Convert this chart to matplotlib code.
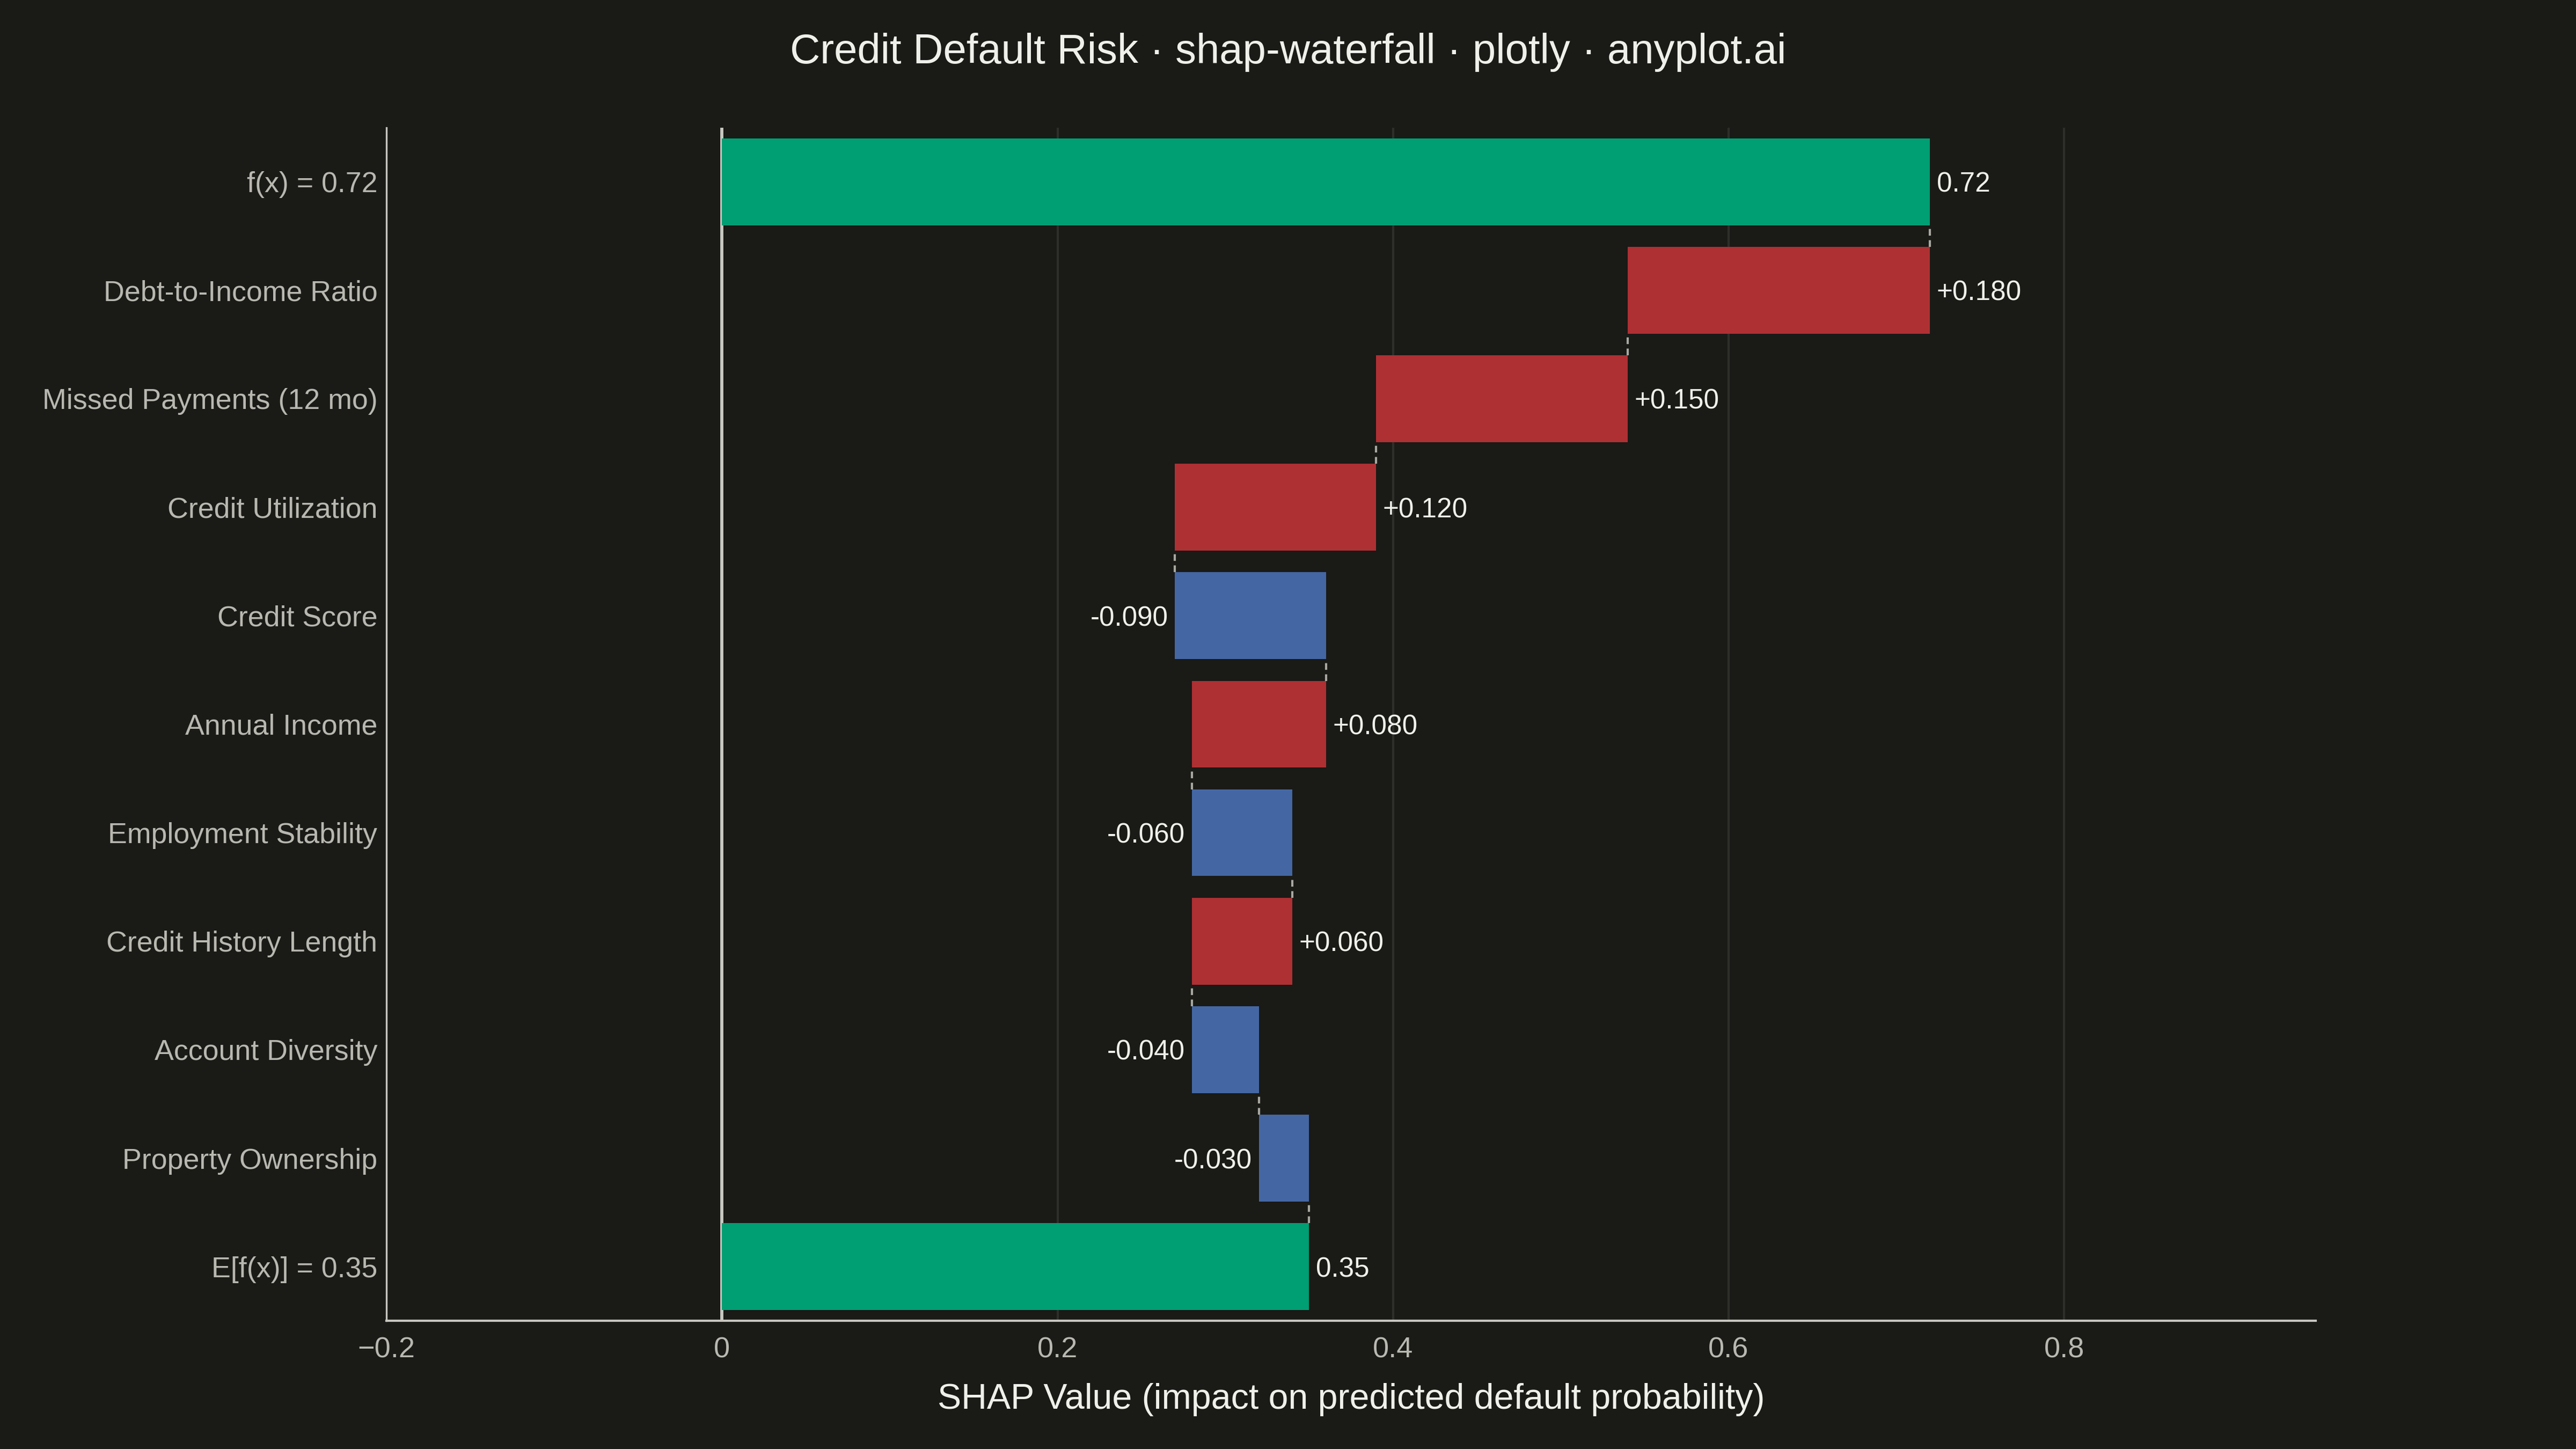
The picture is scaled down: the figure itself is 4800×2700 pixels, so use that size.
import matplotlib.pyplot as plt

# rows from bottom to top (excluding totals)
features = ["Property Ownership", "Account Diversity", "Credit History Length",
            "Employment Stability", "Annual Income", "Credit Score",
            "Credit Utilization", "Missed Payments (12 mo)", "Debt-to-Income Ratio"]
shap_values = [-0.03, -0.04, 0.06, -0.06, 0.08, -0.09, 0.12, 0.15, 0.18]
base_value = 0.35
final_value = 0.72

BG = "#1a1a17"
GREEN = "#009e73"
RED = "#ae3033"
BLUE = "#4467a3"
TICK = "#b8b8b0"
TEXT = "#f0f0ea"
VFS = 12.3


def plot():
    plt.rcParams["font.family"] = ["Liberation Sans", "DejaVu Sans"]
    fig = plt.figure(figsize=(16, 9), dpi=300, facecolor=BG)
    ax = fig.add_axes([0.150, 0.0884, 0.749, 0.8236])
    ax.set_facecolor(BG)

    labels = ["E[f(x)] = %.2f" % base_value] + features + ["f(x) = %.2f" % final_value]
    n = len(labels)
    h = 0.8

    # base bar
    ax.barh(0, base_value, height=h, color=GREEN, zorder=3)
    ax.annotate("%.2f" % base_value, (base_value, 0), xytext=(3, 0),
                textcoords="offset points", va="center_baseline", ha="left",
                color=TEXT, fontsize=VFS, zorder=5)

    cum = base_value
    ends = [cum]
    for i, v in enumerate(shap_values):
        y = i + 1
        left = cum if v > 0 else cum + v
        ax.barh(y, abs(v), left=left, height=h,
                color=RED if v > 0 else BLUE, zorder=3)
        if v > 0:
            ax.annotate("+%.3f" % v, (cum + v, y), xytext=(3, 0),
                        textcoords="offset points", va="center_baseline", ha="left",
                        color=TEXT, fontsize=VFS, zorder=5)
        else:
            ax.annotate("%.3f" % v, (cum + v, y), xytext=(-3, 0),
                        textcoords="offset points", va="center_baseline", ha="right",
                        color=TEXT, fontsize=VFS, zorder=5)
        cum += v
        ends.append(cum)

    # final bar
    ax.barh(n - 1, final_value, height=h, color=GREEN, zorder=3)
    ax.annotate("%.2f" % final_value, (final_value, n - 1), xytext=(3, 0),
                textcoords="offset points", va="center_baseline", ha="left",
                color=TEXT, fontsize=VFS, zorder=5)
    ends.append(final_value)

    # connectors
    for i in range(n - 1):
        ax.plot([ends[i], ends[i]], [i + h / 2, i + 1 - h / 2],
                color="#a8a8a0", lw=1.0, ls=(0, (3, 2)), zorder=4)

    ax.axvline(0, color="#c8c8c0", lw=1.4, zorder=2)

    ax.set_xlim(-0.2, 0.95)
    ax.set_ylim(-0.5, n - 0.5)
    ax.set_yticks(range(n))
    ax.set_yticklabels(labels)
    ax.set_xticks([-0.2, 0, 0.2, 0.4, 0.6, 0.8])
    ax.set_xticklabels(["\u22120.2", "0", "0.2", "0.4", "0.6", "0.8"])
    ax.tick_params(axis="both", length=0, colors=TICK)
    ax.tick_params(axis="y", pad=4, labelsize=12.9)
    ax.tick_params(axis="x", pad=7, labelsize=13)
    ax.grid(axis="x", color="#2e2e2a", lw=1.0, zorder=0)
    ax.set_axisbelow(True)

    for s in ["top", "right"]:
        ax.spines[s].set_visible(False)
    ax.spines["left"].set_color("#c8c8c0")
    ax.spines["left"].set_linewidth(0.8)
    ax.spines["bottom"].set_color("#c8c8c0")
    ax.spines["bottom"].set_linewidth(1.0)

    fig.text(0.5, 0.964, "Credit Default Risk \u00b7 shap-waterfall \u00b7 plotly \u00b7 anyplot.ai",
             ha="center", va="center", color=TEXT, fontsize=18.7)
    fig.text(0.5246, 0.034, "SHAP Value (impact on predicted default probability)",
             ha="center", va="center", color=TEXT, fontsize=15.9)

    fig.savefig("out.png", facecolor=BG)


if __name__ == "__main__":
    plot()
